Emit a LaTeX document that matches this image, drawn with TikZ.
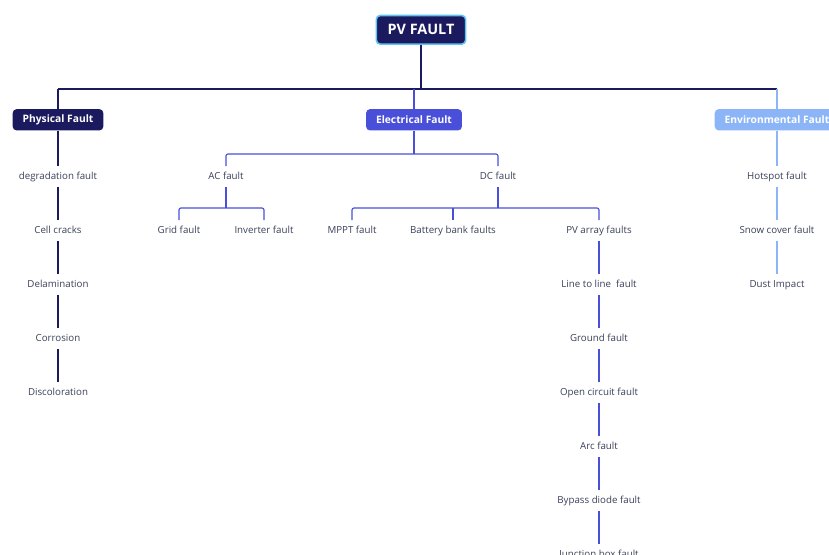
\documentclass[tikz,border=0pt]{standalone}
\usepackage{fontspec}
\setmainfont{Open Sans}
\usetikzlibrary{positioning}
\definecolor{navy}{HTML}{1C1A5E}
\definecolor{elec}{HTML}{4A4FD9}
\definecolor{envi}{HTML}{8CB5F7}
\definecolor{rootrim}{HTML}{5CC3F2}
\definecolor{leaftxt}{HTML}{3B4058}
\tikzset{
  rootbox/.style={rectangle,rounded corners=3pt,fill=navy,draw=rootrim,line width=1.2pt,text=white,
    font=\fontsize{10.8}{12}\selectfont\bfseries,minimum width=67pt,minimum height=21.5pt,yshift=-0.6pt},
  cat/.style={rectangle,rounded corners=3pt,text=white,font=\fontsize{7.7}{9}\selectfont\bfseries,
    minimum height=16pt,inner xsep=7.5pt,yshift=-0.6pt},
  catphys/.style={cat,fill=navy},
  catelec/.style={cat,fill=elec},
  catenvi/.style={cat,fill=envi},
  leaf/.style={text=leaftxt,font=\fontsize{7.3}{8}\selectfont,inner xsep=1pt,inner ysep=4.2pt,
    text height=5.4pt,text depth=1.4pt,yshift=-1.2pt},
  link/.style={line width=0.85pt,rounded corners=1.5pt},
  lnavy/.style={link,navy},
  lelec/.style={link,elec},
  lenvi/.style={link,envi},
}

\begin{document}
\begin{tikzpicture}[x=0.75pt,y=-0.75pt]
  \clip (0,0) rectangle (829,555);
  \useasboundingbox (0,0) rectangle (829,555);

  % root and the three groups
  \node[rootbox] (root) at (421,29) {PV FAULT};
  \node[catphys] (phys) at (58,119) {Physical Fault};
  \node[catelec] (elecf) at (414,119) {Electrical Fault};
  \node[catenvi] (envf) at (777,119) {Environmental Fault};
  \coordinate (bus) at (421,89);

  \draw[lnavy] (root.south) -- (bus);
  \draw[lnavy] (phys.north |- bus) -- (envf.north |- bus);
  \draw[lnavy] (phys.north) -- (phys.north |- bus);
  \draw[lelec] (elecf.north) -- (elecf.north |- bus);
  \draw[lenvi] (envf.north) -- (envf.north |- bus);

  % physical
  \foreach \t [count=\i] in {degradation fault,Cell cracks,Delamination,Corrosion,Discoloration}
    \node[leaf] (ph\i) at (58,{175+54*(\i-1)}) {\t};
  \draw[lnavy] (phys.south) -- (ph1.north);
  \foreach \i/\j in {1/2,2/3,3/4,4/5}
    \draw[lnavy] (ph\i.south) -- (ph\j.north);

  % electrical
  \node[leaf] (ac) at (226,175) {AC fault};
  \node[leaf] (dc) at (498,175) {DC fault};
  \draw[lelec] (ac.north) |- (elecf.south |- 0,154) -| (dc.north);
  \draw[lelec] (elecf.south) -- (elecf.south |- 0,154);

  \node[leaf] (grid) at (179,229) {Grid fault};
  \node[leaf] (inv) at (264,229) {Inverter fault};
  \draw[lelec] (grid.north) |- (ac.south |- 0,208) -| (inv.north);
  \draw[lelec] (ac.south) -- (ac.south |- 0,208);

  \node[leaf] (mppt) at (352,229) {MPPT fault};
  \node[leaf] (batt) at (453,229) {Battery bank faults};
  \node[leaf] (pva) at (599,229) {PV array faults};
  \draw[lelec] (mppt.north) |- (dc.south |- 0,208) -| (pva.north);
  \draw[lelec] (dc.south) -- (dc.south |- 0,208);
  \draw[lelec] (batt.north) -- (batt.north |- 0,208);

  \foreach \t [count=\i] in {Line to line\ \ fault,Ground fault,Open circuit fault,Arc fault,Bypass diode fault,Junction box fault}
    \node[leaf] (pv\i) at (599,{283+54*(\i-1)}) {\t};
  \draw[lelec] (pva.south) -- (pv1.north);
  \foreach \i/\j in {1/2,2/3,3/4,4/5,5/6}
    \draw[lelec] (pv\i.south) -- (pv\j.north);

  % environmental
  \foreach \t [count=\i] in {Hotspot fault,Snow cover fault,Dust Impact}
    \node[leaf] (en\i) at (777,{175+54*(\i-1)}) {\t};
  \draw[lenvi] (envf.south) -- (en1.north);
  \foreach \i/\j in {1/2,2/3}
    \draw[lenvi] (en\i.south) -- (en\j.north);
\end{tikzpicture}
\end{document}
